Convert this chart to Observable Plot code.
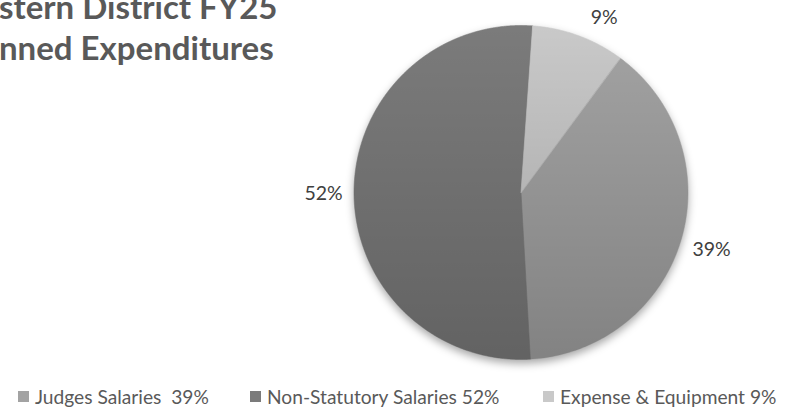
<!DOCTYPE html>
<html><head><meta charset="utf-8">
<script src="https://cdn.jsdelivr.net/npm/d3@7"></script>
<script src="https://cdn.jsdelivr.net/npm/@observablehq/plot@0.6"></script>
<style>
body{margin:0;background:#fff;}
#wrap{position:relative;width:802px;height:415px;overflow:hidden;font-family:Lato,"Open Sans",sans-serif;}
#wrap svg{position:absolute;left:0;top:0;}
.title{position:absolute;left:-1px;font-weight:bold;font-size:33px;color:#595959;white-space:nowrap;line-height:1;}
.leg{position:absolute;top:387px;font-size:19.2px;color:#595959;white-space:pre;line-height:1;display:flex;align-items:center;}
.sw{display:inline-block;width:11px;height:11px;margin-right:6px;}
</style></head><body><div id="wrap"></div>
<script>
const categories = ["Judges Salaries", "Non-Statutory Salaries", "Expense & Equipment"];
const shares = [39, 52, 9];
const sliceLabels = ["39%", "52%", "9%"];
const legendLabels = ["Judges Salaries  39%", "Non-Statutory Salaries 52%", "Expense & Equipment 9%"];
const titleLines = ["stern District FY25", "nned Expenditures"];
const sliceColors = ["#a3a3a3", "#7b7b7b", "#c9c9c9"];

// layout
const W = 802, H = 415, cx = 520.5, cy = 192, R = 167;
const firstAngle = 36.4 * Math.PI / 180;

const pie = d3.pie().sort(null).value(d => d.value).startAngle(firstAngle).endAngle(firstAngle + 2 * Math.PI);
const slices = pie(categories.map((c, i) => ({name: c, value: shares[i], label: sliceLabels[i]})));

// polygon outline of each slice in unit coordinates
const poly = [];
for (const s of slices) {
  poly.push({name: s.data.name, x: 0, y: 0});
  const n = Math.max(8, Math.ceil((s.endAngle - s.startAngle) / 0.005));
  for (let k = 0; k <= n; k++) {
    const a = s.startAngle + (s.endAngle - s.startAngle) * k / n;
    poly.push({name: s.data.name, x: Math.sin(a), y: Math.cos(a)});
  }
}
const circle = d3.range(0, 361).map(d => ({x: Math.sin(d * Math.PI / 180), y: Math.cos(d * Math.PI / 180)}));

// label placement (outside end)
const labels = slices.map(s => {
  const a = (s.startAngle + s.endAngle) / 2;
  const sn = Math.sin(a), cs = Math.cos(a);
  const w = s.data.label.length * 10 + 5;
  const dx = Math.sign(sn) * (w / 2 + 13) * Math.min(1, Math.abs(sn) * 3);
  const dy = -cs * 22 + 3;
  return {label: s.data.label, x: sn + dx / R, y: cs - dy / R};
});

const chart = Plot.plot({
  width: W, height: H,
  margin: 0,
  x: {domain: [-1, 1], range: [cx - R, cx + R], axis: null},
  y: {domain: [-1, 1], range: [cy + R, cy - R], axis: null},
  color: {domain: categories, range: sliceColors},
  marks: [
    () => {
      const ns = "http://www.w3.org/2000/svg";
      const defs = document.createElementNS(ns, "defs");
      defs.innerHTML = `
        <linearGradient id="shade" x1="0" y1="0" x2="0" y2="1">
          <stop offset="0" stop-color="#000" stop-opacity="0"/>
          <stop offset="1" stop-color="#000" stop-opacity="0.2"/>
        </linearGradient>
        <filter id="blur" x="-20%" y="-20%" width="140%" height="140%">
          <feGaussianBlur stdDeviation="4"/>
        </filter>`;
      return defs;
    },
    Plot.line(circle, {x: "x", y: "y", curve: "linear-closed", fill: "#000", fillOpacity: 0.35, stroke: "none", dy: 4}),
    Plot.line(poly, {x: "x", y: "y", z: "name", fill: "name", stroke: "name", strokeWidth: 0.6, curve: "linear-closed"}),
    Plot.line(circle, {x: "x", y: "y", curve: "linear-closed", fill: "url(#shade)", stroke: "none"}),
    Plot.text(labels, {x: "x", y: "y", text: "label", fontSize: 19.5, fill: "#404040", fontFamily: "Lato, 'Open Sans', sans-serif"})
  ]
});
const lines = chart.querySelectorAll('g[aria-label="line"]');
if (lines[0]) lines[0].setAttribute("filter", "url(#blur)");

const wrap = document.getElementById("wrap");
wrap.appendChild(chart);

titleLines.forEach((t, i) => {
  const d = document.createElement("div");
  d.className = "title";
  d.style.top = (i === 0 ? -10 : 31) + "px";
  d.textContent = t;
  wrap.appendChild(d);
});

const legX = [18, 250, 543];
legendLabels.forEach((t, i) => {
  const d = document.createElement("div");
  d.className = "leg";
  d.style.left = legX[i] + "px";
  const sw = document.createElement("span");
  sw.className = "sw";
  sw.style.background = sliceColors[i];
  d.appendChild(sw);
  d.appendChild(document.createTextNode(t));
  wrap.appendChild(d);
});
</script>
</body></html>
